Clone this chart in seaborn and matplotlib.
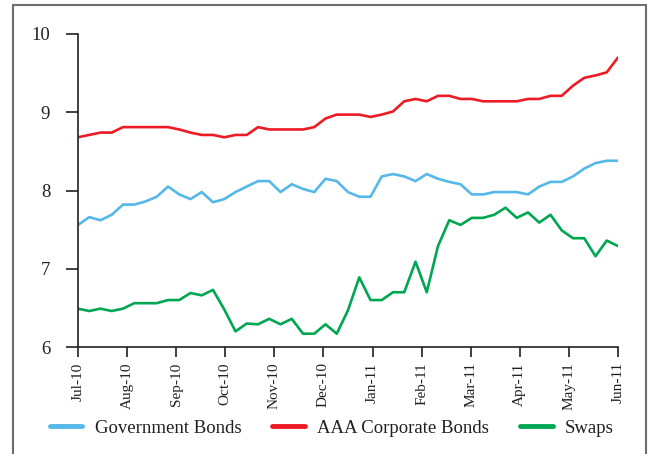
import numpy as np
import pandas as pd
import matplotlib
matplotlib.use("Agg")
import matplotlib.pyplot as plt
import seaborn as sns
from matplotlib.patches import Rectangle

month_labels = ["Jul-10", "Aug-10", "Sep-10", "Oct-10", "Nov-10", "Dec-10",
                "Jan-11", "Feb-11", "Mar-11", "Apr-11", "May-11", "Jun-11"]

gov_bonds = [7.56, 7.66, 7.62, 7.69, 7.82, 7.82, 7.86, 7.92, 8.05, 7.95,
             7.89, 7.98, 7.85, 7.89, 7.98, 8.05, 8.12, 8.12, 7.98, 8.08,
             8.02, 7.98, 8.15, 8.12, 7.98, 7.92, 7.92, 8.18, 8.21, 8.18,
             8.12, 8.21, 8.15, 8.11, 8.08, 7.95, 7.95, 7.98, 7.98, 7.98,
             7.95, 8.05, 8.11, 8.11, 8.18, 8.28, 8.35, 8.38, 8.38]

aaa_corp = [8.68, 8.71, 8.74, 8.74, 8.81, 8.81, 8.81, 8.81, 8.81, 8.78,
            8.74, 8.71, 8.71, 8.68, 8.71, 8.71, 8.81, 8.78, 8.78, 8.78,
            8.78, 8.81, 8.92, 8.97, 8.97, 8.97, 8.94, 8.97, 9.01, 9.14,
            9.17, 9.14, 9.21, 9.21, 9.17, 9.17, 9.14, 9.14, 9.14, 9.14,
            9.17, 9.17, 9.21, 9.21, 9.34, 9.44, 9.47, 9.51, 9.70]

swaps = [6.49, 6.46, 6.49, 6.46, 6.49, 6.56, 6.56, 6.56, 6.60, 6.60,
         6.69, 6.66, 6.73, 6.48, 6.20, 6.30, 6.29, 6.36, 6.29, 6.36,
         6.17, 6.17, 6.29, 6.17, 6.47, 6.89, 6.60, 6.60, 6.70, 6.70,
         7.09, 6.70, 7.29, 7.62, 7.56, 7.65, 7.65, 7.69, 7.78, 7.65,
         7.72, 7.59, 7.69, 7.49, 7.39, 7.39, 7.16, 7.36, 7.29]

series_names = ["Government Bonds", "AAA Corporate Bonds", "Swaps"]
colors = ["#56B8E8", "#ED1C24", "#00A651"]

n = len(swaps)
week = np.arange(n)
df = pd.DataFrame({
    "week": np.concatenate([week, week, week]),
    "value": gov_bonds + aaa_corp + swaps,
    "series": [series_names[0]] * n + [series_names[1]] * n + [series_names[2]] * n,
})

sns.set_style("white")
plt.rcParams["font.family"] = ["Liberation Serif", "DejaVu Serif"]

fig = plt.figure(figsize=(6.48, 4.54), dpi=100)
ax = fig.add_axes([78 / 648, 1 - 347 / 454, (618 - 78) / 648, (347 - 34) / 454])

sns.lineplot(data=df, x="week", y="value", hue="series", hue_order=series_names,
             palette=colors, linewidth=1.9, ax=ax, legend=False)

ax.set_xlim(0, n - 1)
ax.set_ylim(6, 10)
ax.set_yticks([6, 7, 8, 9, 10])
ax.set_xticks(np.linspace(0, n - 1, len(month_labels)))
ax.set_xticklabels(month_labels, rotation=90, fontsize=11, color="#231F20")
ax.tick_params(axis="y", labelsize=13.5, labelcolor="#231F20", length=9, width=1.2,
               color="#231F20", direction="out", left=True, pad=11)
ax.tick_params(axis="x", length=7, width=1.2, color="#231F20", direction="out",
               bottom=True, pad=4)
ax.set_xlabel("")
ax.set_ylabel("")
for s in ["top", "right"]:
    ax.spines[s].set_visible(False)
for s in ["left", "bottom"]:
    ax.spines[s].set_color("#231F20")
    ax.spines[s].set_linewidth(1.2)

handles = [plt.Line2D([], [], color=c, linewidth=3.5) for c in colors]
fig.legend(handles, series_names, loc="center", bbox_to_anchor=(0.512, 1 - 428 / 454),
           ncol=3, frameon=False, fontsize=13.5, handlelength=1.75, columnspacing=1.65,
           handletextpad=0.65, labelcolor="#231F20")

fig.patches.append(Rectangle((13 / 648, -0.05), (646 - 13) / 648, 1.05 - 5 / 454,
                             transform=fig.transFigure, fill=False,
                             edgecolor="#6D6E71", linewidth=1.5))

fig.savefig("out.png", dpi=100)
